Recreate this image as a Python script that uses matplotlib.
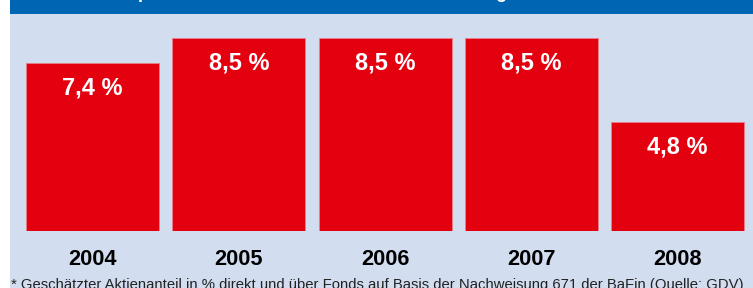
import matplotlib
matplotlib.use("Agg")
import matplotlib.pyplot as plt
from matplotlib.patches import Rectangle

years = ["2004", "2005", "2006", "2007", "2008"]
values = [7.4, 8.5, 8.5, 8.5, 4.8]
value_labels = ["7,4 %", "8,5 %", "8,5 %", "8,5 %", "4,8 %"]
title = "Aktienquote deutscher Lebensversicherer im Vergleich 2004 bis 2008*"
footnote = "* Geschätzter Aktienanteil in % direkt und über Fonds auf Basis der Nachweisung 671 der BaFin (Quelle: GDV)"

W, H = 753, 288
BLUE = "#0066b3"
BG = "#d2def0"
RED = "#e3000f"
FONT = ["Liberation Sans", "DejaVu Sans"]

fig = plt.figure(figsize=(W / 100, H / 100), dpi=100)
fig.patch.set_facecolor("white")

# background panel and top band
fig.patches.append(Rectangle((10 / W, 0), 1 - 10 / W, 1, transform=fig.transFigure,
                             facecolor=BG, edgecolor="none", zorder=-2))
fig.patches.append(Rectangle((10 / W, 1 - 14 / H), 1 - 10 / W, 14 / H, transform=fig.transFigure,
                             facecolor=BLUE, edgecolor="none", zorder=-1))

# axes: x from 10px to 753px, y from 231px (bottom) to 14px (top)
ax_left, ax_right = 10, W
ax_top, ax_bottom = 14, 231
ax = fig.add_axes([ax_left / W, (H - ax_bottom) / H, (ax_right - ax_left) / W, (ax_bottom - ax_top) / H])
ax.set_facecolor("none")
ax.set_zorder(1)
pitch = 146.25
c0 = 92.5
ax.set_xlim(-(c0 - ax_left) / pitch, (ax_right - c0) / pitch)
px_per_unit = 193 / 8.5
ax.set_ylim(0, (ax_bottom - ax_top) / px_per_unit)
for s in ax.spines.values():
    s.set_visible(False)
ax.set_xticks([])
ax.set_yticks([])

x = list(range(len(years)))
bars = ax.bar(x, values, width=133 / pitch, color=RED, edgecolor="#e8808a", linewidth=0.6)
for xi, v, lab in zip(x, values, value_labels):
    ax.annotate(lab, (xi, v), xytext=(0, -25), textcoords="offset pixels",
                ha="center", va="center", color="white", fontsize=17,
                fontweight="bold", family=FONT, annotation_clip=False)
for xi, yr in zip(x, years):
    ax.annotate(yr, (xi, 0), xytext=(0, -28.5), textcoords="offset pixels",
                ha="center", va="center", color="black", fontsize=15.7,
                fontweight="bold", family=FONT, annotation_clip=False)

fig.text(0.5, 1 + 6 / H, title, ha="center", va="center", color="white",
         fontsize=13, fontweight="bold", family=FONT, zorder=5)
fig.text(377 / W, 3.5 / H, footnote, ha="center", va="center", color="#222222",
         fontsize=10.7, family=FONT, zorder=5)

fig.savefig("out.png", dpi=100)
